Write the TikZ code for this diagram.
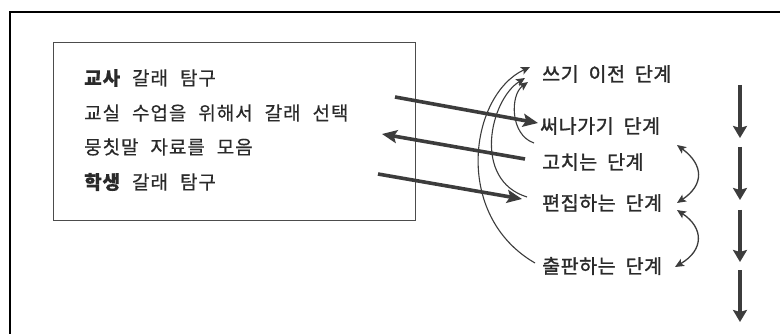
\documentclass[tikz,border=0pt]{standalone}
\usepackage{fontspec}
\newfontfamily\krfont[WordSpace=2.3,LetterSpace=5,FakeBold=0.4]{Noto Sans CJK KR}
\newfontfamily\krmed[WordSpace=2.0,LetterSpace=3,FakeBold=1.4]{Noto Sans CJK KR}
\usetikzlibrary{arrows.meta}
\definecolor{ink}{HTML}{2A2A2A}
\definecolor{arr}{HTML}{3C3C3C}
\begin{document}
\begin{tikzpicture}[x=1pt,y=-1pt,
  lefttext/.style={anchor=west,inner sep=0pt,font=\krfont\fontsize{19}{22}\selectfont,text=ink},
  righttext/.style={anchor=west,inner sep=0pt,font=\krmed\fontsize{19.5}{22}\selectfont,text=ink},
  thickarrow/.style={arr,line width=3.6pt,-{Stealth[length=15pt,width=13pt,inset=3pt]}},
  downarrow/.style={arr,line width=4pt,-{Stealth[length=12pt,width=14pt,inset=2pt]}},
  thinarrow/.style={arr,line width=1.1pt,-{Stealth[length=9pt,width=8pt,inset=2pt]}},
  bothway/.style={arr,line width=1.3pt,{Stealth[length=9pt,width=8pt,inset=2pt]}-{Stealth[length=9pt,width=8pt,inset=2pt]}},
  frameline/.style={black,line width=2pt},
  innerbox/.style={draw=black!70,line width=1.3pt,inner sep=0pt,anchor=north west}
]
\useasboundingbox (0,0) rectangle (780,334);
\fill[white] (0,0) rectangle (780,334);
\draw[frameline] (10,334) -- (10,12) -- (780,12);
\node[innerbox, minimum width=362pt, minimum height=178pt] (box) at (53,42) {};

% left texts
\node[lefttext] (t1) at (84,78) {{\bfseries 교사} 갈래 탐구};
\node[lefttext] (t2) at (84,113) {교실 수업을 위해서 갈래 선택};
\node[lefttext] (t3) at (84,147) {뭉칫말 자료를 모음};
\node[lefttext] (t4) at (84,182) {{\bfseries 학생} 갈래 탐구};

% right texts
\node[righttext] (s1) at (542,74) {쓰기 이전 단계};
\node[righttext] (s2) at (540,126) {써나가기 단계};
\node[righttext] (s3) at (542,162) {고치는 단계};
\node[righttext] (s4) at (542,203) {편집하는 단계};
\node[righttext] (s5) at (542,266) {출판하는 단계};

% thick arrows between box and stages
\coordinate (a1) at (395,97);
\coordinate (a2) at (382,134);
\coordinate (a3) at (378,174);
\draw[thickarrow] (a1) -- ([xshift=-2pt,yshift=3pt]s2.west);
\draw[thickarrow] ([xshift=-17pt,yshift=3pt]s3.west) -- (a2);
\draw[thickarrow] (a3) -- ([xshift=-20pt,yshift=4pt]s4.west);

% thin curved arrows back to the pre-writing stage
\draw[thinarrow] ([xshift=-7pt,yshift=3pt]s5.west) .. controls (452,215) and (470,95) .. ([xshift=-12pt,yshift=7pt]s1.west);
\draw[thinarrow] ([xshift=-15pt,yshift=6pt]s4.west) .. controls (472,180) and (490,100) .. ([xshift=-17pt,yshift=-4pt]s1.west);
\draw[thinarrow] ([xshift=-8pt,yshift=19pt]s3.west) .. controls (510,135) and (510,95) .. ([xshift=-14pt,yshift=-8pt]s1.west);

% double-headed arrows on the right
\coordinate (d1) at (677,145);
\coordinate (d2) at (677,203);
\coordinate (d3) at (677,210);
\coordinate (d4) at (675,267);
\draw[bothway] (d1) .. controls (704,165) and (704,185) .. (d2);
\draw[bothway] (d3) .. controls (704,228) and (704,250) .. (d4);

% vertical sequence arrows
\coordinate (v1a) at (740,85);  \coordinate (v1b) at (740,138);
\coordinate (v2a) at (740,147); \coordinate (v2b) at (740,200);
\coordinate (v3a) at (740,210); \coordinate (v3b) at (740,262);
\coordinate (v4a) at (740,270); \coordinate (v4b) at (740,322);
\draw[downarrow] (v1a) -- (v1b);
\draw[downarrow] (v2a) -- (v2b);
\draw[downarrow] (v3a) -- (v3b);
\draw[downarrow] (v4a) -- (v4b);
\end{tikzpicture}
\end{document}
